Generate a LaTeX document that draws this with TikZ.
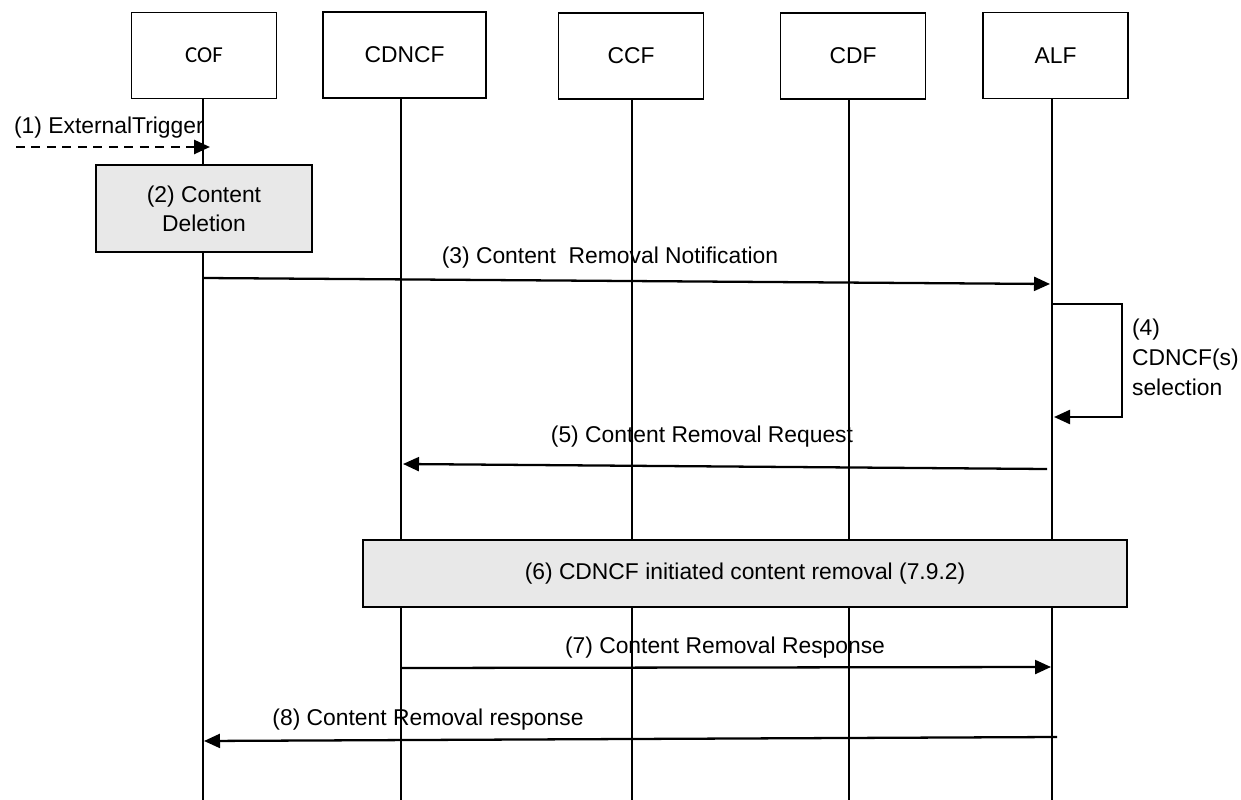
\documentclass[tikz,border=0pt]{standalone}
\usepackage{fontspec}
\setmainfont{Liberation Sans}
\newfontfamily\coffont{Carlito}
\usetikzlibrary{arrows.meta}
\definecolor{boxgray}{HTML}{E8E8E8}

\begin{document}
\begin{tikzpicture}[
    x=0.02cm, y=-0.02cm,
    % Box and line styles
    entitybox/.style={draw=black, line width=0.7pt, fill=white, minimum width=2.9cm, minimum height=1.72cm, font=\fontsize{13}{16}\selectfont},
    actionbox/.style={draw=black, line width=0.8pt, fill=boxgray, align=center, font=\fontsize{13}{16.5}\selectfont},
    lifeline/.style={draw=black, line width=0.6pt},
    msgarrow/.style={-{Triangle[length=0.32cm, width=0.28cm]}, line width=1.3pt},
    msglabel/.style={font=\fontsize{13}{17}\selectfont, inner sep=1pt}
]

% 0. Canvas
\useasboundingbox (0,0) rectangle (1241,800);

% 1. Entity boxes on top
\node[entitybox, font=\coffont\fontsize{13}{16}\selectfont] (cof) at (204,55.5) {COF};
\node[entitybox, minimum width=3.26cm] (cdncf) at (404.5,55) {CDNCF};
\node[entitybox] (ccf)   at (631,56) {CCF};
\node[entitybox] (cdf)   at (853,56) {CDF};
\node[entitybox] (alf)   at (1055.5,55.5) {ALF};

% 2. Lifelines down to the bottom edge
\coordinate (cofend)   at (203,800);
\coordinate (cdncfend) at (401,800);
\coordinate (ccfend)   at (632,800);
\coordinate (cdfend)   at (849,800);
\coordinate (alfend)   at (1052,800);
\draw[lifeline] (cof.south -| cofend) -- (cofend);
\draw[lifeline] (cdncf.south -| cdncfend) -- (cdncfend);
\draw[lifeline] (ccf.south -| ccfend) -- (ccfend);
\draw[lifeline] (cdf.south -| cdfend) -- (cdfend);
\draw[lifeline] (alf.south -| alfend) -- (alfend);

% 3. External trigger
\coordinate (trigger) at (16,147);
\coordinate (cof1)    at (210,147);
\node[msglabel, anchor=west] (lbl1) at (12,128) {(1) ExternalTrigger};
\draw[msgarrow, line width=1.5pt, dash pattern=on 0.18cm off 0.13cm] (trigger) -- (cof1);

% 4. Local action boxes
\node[actionbox, minimum width=4.32cm, minimum height=1.74cm] (deletion) at (204,208.5) {(2) Content\\Deletion};
\node[actionbox, minimum width=15.28cm, minimum height=1.34cm] (removal) at (745,573.5) {(6) CDNCF initiated content removal (7.9.2)};

% 5. Messages
\coordinate (cof3) at (203,278);
\coordinate (alf3) at (1050,284);
\draw[msgarrow] (cof3) -- (alf3);
\node[msglabel] (lbl3) at (610,258) {(3) Content\ \ Removal Notification};

\coordinate (alf4a) at (1052,304);
\coordinate (alf4b) at (1054,417);
\draw[msgarrow] (alf4a) -- ++(70,0) |- (alf4b);
\node[msglabel, anchor=west, align=left] (lbl4) at (1130,357) {(4)\\CDNCF(s)\\selection};

\coordinate (alf5)   at (1047,469);
\coordinate (cdncf5) at (403,464);
\draw[msgarrow] (alf5) -- (cdncf5);
\node[msglabel] (lbl5) at (702,437) {(5) Content Removal Request};

\coordinate (cdncf7) at (401,668);
\coordinate (alf7)   at (1051,667);
\draw[msgarrow] (cdncf7) -- (alf7);
\node[msglabel] (lbl7) at (725,648) {(7) Content Removal Response};

\coordinate (alf8) at (1057,737);
\coordinate (cof8) at (204,741);
\draw[msgarrow] (alf8) -- (cof8);
\node[msglabel] (lbl8) at (428,720) {(8) Content Removal response};

\end{tikzpicture}
\end{document}
